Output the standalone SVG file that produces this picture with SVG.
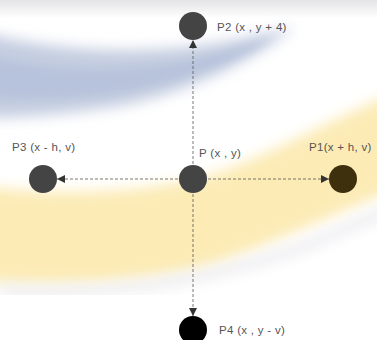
<svg xmlns="http://www.w3.org/2000/svg" width="377" height="340" viewBox="0 0 377 340">
<defs>
<filter id="blur" x="-20%" y="-30%" width="140%" height="160%"><feGaussianBlur stdDeviation="7"/></filter>
<filter id="blur2" x="-20%" y="-30%" width="140%" height="160%"><feGaussianBlur stdDeviation="4"/></filter>
<linearGradient id="topg" x1="0" y1="0" x2="0" y2="1">
<stop offset="0" stop-color="#e4e4e6"/>
<stop offset="1" stop-color="#ffffff"/>
</linearGradient>
<clipPath id="bgclip"><rect x="0" y="0" width="377" height="295"/></clipPath>
<marker id="arr" viewBox="0 0 8 8" refX="8" refY="4" markerWidth="8" markerHeight="8" markerUnits="userSpaceOnUse" orient="auto">
<path d="M0,0 L8,4 L0,8 Z" fill="#333"/>
</marker>
<style>
.lbl{font-family:"Liberation Sans",Arial,sans-serif;font-size:11.5px;letter-spacing:0.3px;fill:#555}
.conn{stroke:#555;stroke-width:0.8;stroke-dasharray:3,2;fill:none}
</style>
</defs>
<rect width="377" height="340" fill="#fff"/>
<g id="background" clip-path="url(#bgclip)">
<rect x="0" y="0" width="377" height="18" fill="url(#topg)"/>
<path d="M-20,32 C60,52 170,62 295,26 C265,52 200,90 120,106 C70,114 20,118 -20,118 Z" fill="#c4cde0" filter="url(#blur)"/>
<path d="M-20,55 C60,74 160,80 275,36 C235,62 180,82 110,94 C60,100 20,100 -20,98 Z" fill="#b7c3dc" filter="url(#blur2)"/>
<path d="M-20,186 C60,196 150,194 220,172 C280,150 340,115 390,95 L390,192 C340,212 280,240 220,262 C150,284 60,286 -20,282 Z" fill="#fcebb5" filter="url(#blur)"/>
<path d="M0,290 C100,296 200,284 300,248 C330,236 360,222 390,210" stroke="#ececf0" stroke-width="10" fill="none" filter="url(#blur)"/>
</g>
<g id="connectors">
<line class="conn" x1="193" y1="179" x2="193" y2="40" marker-end="url(#arr)"/>
<line class="conn" x1="193" y1="179" x2="193" y2="316" marker-end="url(#arr)"/>
<line class="conn" x1="193" y1="179" x2="57" y2="179" marker-end="url(#arr)"/>
<line class="conn" x1="193" y1="179" x2="329" y2="179" marker-end="url(#arr)"/>
</g>
<g id="P">
<circle cx="193" cy="179" r="14" fill="#444"/>
<text class="lbl" x="199" y="157">P (x , y)</text>
</g>
<g id="P2">
<circle cx="193" cy="26" r="14" fill="#444"/>
<text class="lbl" x="217" y="31">P2 (x , y + 4)</text>
</g>
<g id="P3">
<circle cx="43" cy="179" r="14" fill="#444"/>
<text class="lbl" x="12" y="151">P3 (x - h, v)</text>
</g>
<g id="P1">
<circle cx="343" cy="179" r="14" fill="#3e300c"/>
<text class="lbl" x="309" y="151">P1(x + h, v)</text>
</g>
<g id="P4">
<circle cx="193" cy="330" r="14" fill="#000"/>
<text class="lbl" x="219" y="334">P4 (x , y - v)</text>
</g>
</svg>
